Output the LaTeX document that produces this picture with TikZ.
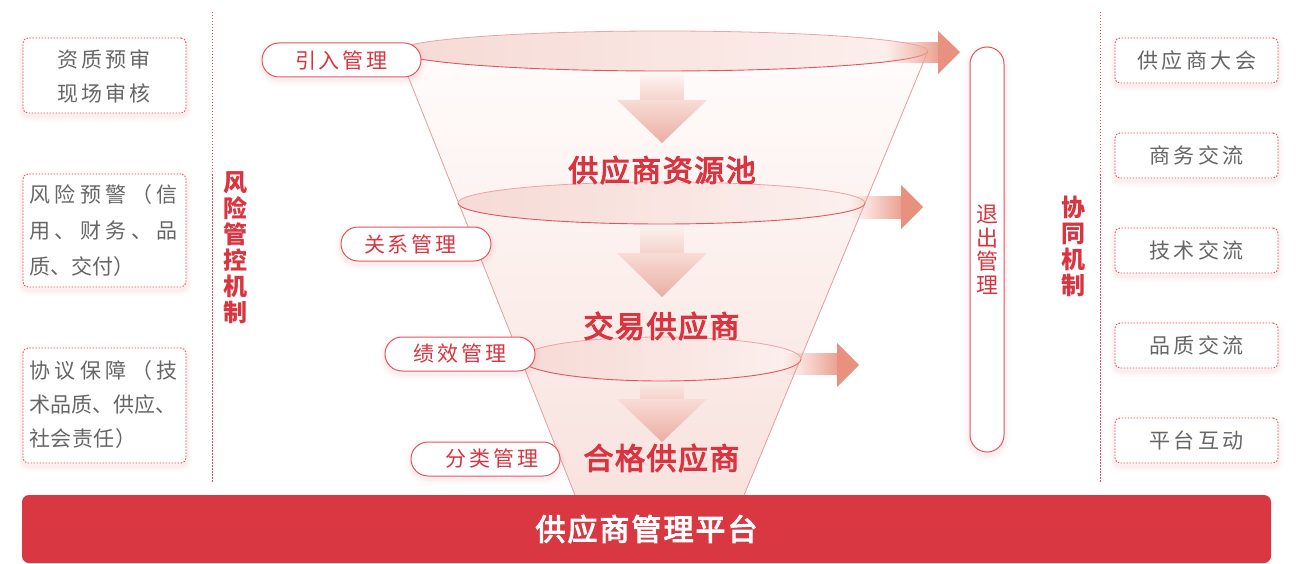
\documentclass[tikz,border=0pt]{standalone}
\usepackage{fontspec}
\setmainfont{Noto Sans CJK SC}
\newfontfamily\medfont{Noto Sans CJK SC}[FakeBold=3.5]
\usetikzlibrary{fadings}
\definecolor{barred}{HTML}{D93742}
\definecolor{txtred}{HTML}{D9343F}
\definecolor{pillred}{HTML}{E2555E}
\definecolor{dotred}{HTML}{E94C57}
\definecolor{graytxt}{HTML}{666666}
\definecolor{edgered}{HTML}{EBA3A6}
\definecolor{salmon}{HTML}{E8917F}
\definecolor{funTop}{HTML}{FFFCFB}
\definecolor{funBot}{HTML}{F8E2DE}
\definecolor{ringL}{HTML}{F6DAD5}
\definecolor{ringR}{HTML}{FCF0EE}
\definecolor{dhTop}{HTML}{F8DCD6}
\definecolor{dhBot}{HTML}{EAAEA4}
\definecolor{shadowpink}{HTML}{E8868C}
\makeatletter
\def\ls@gap{0pt}
\newcommand\spc[2]{\def\ls@gap{#1}\ls@a#2\relax}
\def\ls@a#1{#1\ls@b}
\def\ls@b#1{\ifx\relax#1\else\kern\ls@gap#1\expandafter\ls@b\fi}
\makeatother
\tikzfading[name=fadeE, left color=transparent!100, right color=transparent!0]
\tikzfading[name=fadeS, top color=transparent!100, bottom color=transparent!0]
\tikzset{
  softshadow/.style={
    preaction={draw=shadowpink, solid, line width=12pt, draw opacity=0.035, transform canvas={yshift=-3pt}},
    preaction={draw=shadowpink, solid, line width=7pt, draw opacity=0.05, transform canvas={yshift=-3pt}},
    preaction={draw=shadowpink, solid, line width=3pt, draw opacity=0.07, transform canvas={yshift=-3pt}}},
  dotbox/.style={softshadow, draw=dotred, dash pattern=on 1.5pt off 1.5pt, line width=0.9pt, rounded corners=5pt, fill=white, minimum width=163pt, inner sep=0pt, text=graytxt, font=\fontsize{21}{34}\selectfont},
  pill/.style={softshadow, draw=pillred, line width=1pt, fill=white, rounded corners=17pt, minimum height=34pt, inner sep=0pt, text=txtred, font=\fontsize{21}{26}\selectfont},
  vtitle/.style={text=txtred, font=\fontsize{24}{26}\selectfont\bfseries, align=center, inner sep=0pt},
  stage/.style={text=txtred, font=\fontsize{30}{34}\medfont, inner sep=0pt},
  vline/.style={draw=dotred, dash pattern=on 1.5pt off 1.5pt, line width=0.9pt},
  ringback/.style={draw=edgered, line width=0.8pt},
  ringfront/.style={draw=pillred, line width=0.9pt},
  ringfill/.style={left color=ringL, right color=ringR},
  downshaft/.style={fill=dhTop!80!dhBot, path fading=fadeS},
  downhead/.style={top color=dhTop, bottom color=dhBot},
  rshaft/.style={fill=salmon!85, path fading=fadeE},
  rhead/.style={fill=salmon},
  edge/.style={draw=edgered, line width=0.8pt},
}
\begin{document}
\begin{tikzpicture}[x=1pt,y=-1pt]
\useasboundingbox (0,0) rectangle (1303,564);
% dotted separators
\coordinate (s1t) at (212,12); \coordinate (s1b) at (212,482);
\coordinate (s2t) at (1100,12); \coordinate (s2b) at (1100,482);
\draw[vline] (s1t) -- (s1b);
\draw[vline] (s2t) -- (s2b);
% funnel body
\coordinate (ftl) at (398,51); \coordinate (ftr) at (928,51);
\coordinate (fbl) at (577,500); \coordinate (fbr) at (742,500);
\fill[top color=funTop, bottom color=funBot] (ftl) -- (ftr) -- (fbr) -- (fbl) -- cycle;
\draw[edge] (ftl) -- (fbl);
\draw[edge] (ftr) -- (fbr);
% rings
\coordinate (e1) at (663,51);
\shade[ringfill] (e1) ellipse [x radius=265pt, y radius=20pt];
\draw[ringback] ([xshift=265pt]e1) arc[start angle=0, end angle=180, x radius=265pt, y radius=20pt];
\draw[ringfront] ([xshift=-265pt]e1) arc[start angle=180, end angle=360, x radius=265pt, y radius=20pt];
\coordinate (e2) at (661.5,203);
\shade[ringfill] (e2) ellipse [x radius=203.5pt, y radius=21pt];
\draw[ringback] ([xshift=203.5pt]e2) arc[start angle=0, end angle=180, x radius=203.5pt, y radius=21pt];
\draw[ringfront] ([xshift=-203.5pt]e2) arc[start angle=180, end angle=360, x radius=203.5pt, y radius=21pt];
\coordinate (e3) at (661,359);
\shade[ringfill] (e3) ellipse [x radius=140pt, y radius=22pt];
\draw[ringback] ([xshift=140pt]e3) arc[start angle=0, end angle=180, x radius=140pt, y radius=22pt];
\draw[ringfront] ([xshift=-140pt]e3) arc[start angle=180, end angle=360, x radius=140pt, y radius=22pt];
% down arrows
\fill[downshaft] (640,70) rectangle (684,100);
\shade[downhead] (617,100) -- (707,100) -- (662,143) -- cycle;
\fill[downshaft] (640,226) rectangle (684,253);
\shade[downhead] (617,253) -- (707,253) -- (662,297) -- cycle;
\fill[downshaft] (640,382) rectangle (684,399);
\shade[downhead] (617,399) -- (707,399) -- (662,442) -- cycle;
% right arrows
\fill[rshaft] (886,42) rectangle (938,63);
\fill[rhead] (938,31) -- (960,52) -- (938,74) -- cycle;
\fill[rshaft] (850,196) rectangle (901,219);
\fill[rhead] (901,185) -- (923,207) -- (901,229) -- cycle;
\fill[rshaft] (783,353) rectangle (837,375);
\fill[rhead] (837,343) -- (859,365) -- (837,387) -- cycle;
% stage titles
\node[stage] (st1) at (662,170) {\spc{1.5pt}{供应商资源池}};
\node[stage] (st2) at (661.5,326) {\spc{1.5pt}{交易供应商}};
\node[stage] (st3) at (661.5,458) {\spc{1.5pt}{合格供应商}};
% pills
\node[pill, minimum width=159pt] (p1) at (341.5,60) {\spc{3pt}{引入管理}};
\node[pill, minimum width=150pt] (p2) at (416,244) {\spc{3pt}{关系管理}\kern11pt};
\node[pill, minimum width=150pt] (p3) at (460,354) {\spc{3pt}{绩效管理}};
\node[pill, minimum width=149pt] (p4) at (485.5,459) {\kern13pt\spc{3pt}{分类管理}};
\node[pill, minimum width=34pt, minimum height=405pt, align=center, font=\fontsize{22}{23.5}\selectfont] (exit) at (987,249.5) {退\\出\\管\\理};
% left boxes
\node[dotbox, minimum height=75pt] (l1) at (104.5,75.5) {};
\node[text=graytxt, font=\fontsize{21}{34}\selectfont, align=center, inner sep=0pt] (l1t) at (104,76.5) {\spc{3pt}{资质预审}\\\spc{3pt}{现场审核}};
\node[dotbox, minimum height=113pt] (l2) at (104.5,230.5) {};
\node[text=graytxt, font=\fontsize{21}{36}\selectfont, align=left, inner sep=0pt] (l2t) at (103.5,231) {\spc{4.4pt}{风险预警（信}\\\spc{4.4pt}{用、财务、品}\\\spc{0pt}{质、交付）}};
\node[dotbox, minimum height=115pt] (l3) at (104.5,405.5) {};
\node[text=graytxt, font=\fontsize{21}{34}\selectfont, align=left, inner sep=0pt] (l3t) at (103.5,405) {\spc{4.4pt}{协议保障（技}\\\spc{0pt}{术品质、供应、}\\\spc{0.5pt}{社会责任）}};
% vertical titles
\node[vtitle] (risk) at (235,247.5) {风\\险\\管\\控\\机\\制};
\node[vtitle] (coop) at (1073,246.5) {协\\同\\机\\制};
% right boxes
\node[dotbox, minimum height=45pt] (r1) at (1196.5,60.5) {\spc{3.5pt}{供应商大会}};
\node[dotbox, minimum height=45pt] (r2) at (1196.5,155.5) {\spc{3.3pt}{商务交流}};
\node[dotbox, minimum height=45pt] (r3) at (1196.5,250.5) {\spc{3.3pt}{技术交流}};
\node[dotbox, minimum height=45pt] (r4) at (1196.5,345.5) {\spc{3.3pt}{品质交流}};
\node[dotbox, minimum height=45pt] (r5) at (1196.5,440.5) {\spc{3.3pt}{平台互动}};
% platform bar
\node[fill=barred, rounded corners=7pt, minimum width=1249pt, minimum height=68pt, inner sep=0pt, text=white, font=\fontsize{30}{34}\medfont] (bar) at (646.5,529) {\spc{2pt}{供应商管理平台}};
\end{tikzpicture}
\end{document}
